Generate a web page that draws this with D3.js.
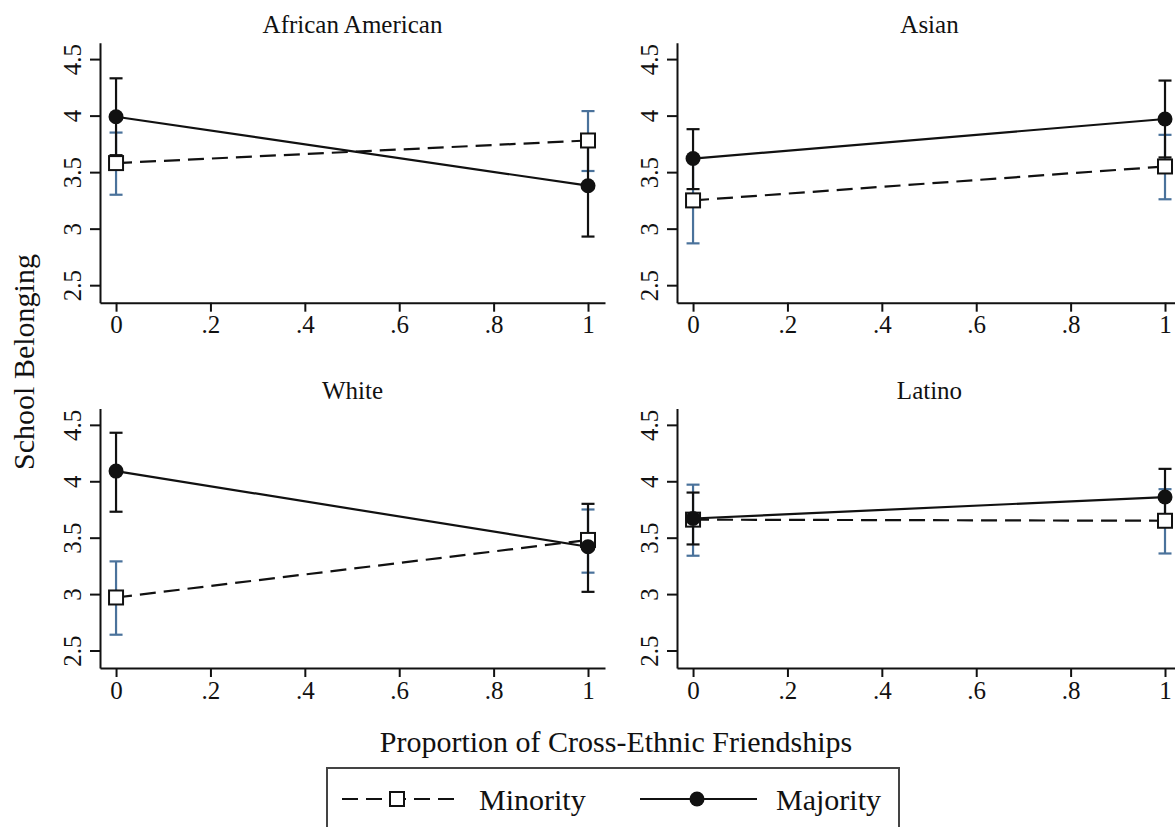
<!DOCTYPE html>
<html>
<head>
<meta charset="utf-8">
<script src="https://cdn.jsdelivr.net/npm/d3@7"></script>
<style>
  html, body { margin: 0; padding: 0; background: #fff; }
  svg { display: block; }
  text { font-family: "Liberation Serif", "Times New Roman", serif; fill: #111; }
</style>
</head>
<body>
<svg id="chart" width="1175" height="827"></svg>
<script>
// ---- Data ----
const panelTitles = ["African American", "Asian", "White", "Latino"];
const xValues = [0, 1];
const minorityMean  = [[3.58, 3.78], [3.25, 3.55], [2.97, 3.48], [3.66, 3.65]];
const minorityLower = [[3.30, 3.51], [2.87, 3.26], [2.64, 3.19], [3.34, 3.36]];
const minorityUpper = [[3.85, 4.04], [3.63, 3.83], [3.29, 3.75], [3.97, 3.93]];
const majorityMean  = [[3.99, 3.38], [3.62, 3.97], [4.09, 3.42], [3.67, 3.86]];
const majorityLower = [[3.65, 2.93], [3.35, 3.63], [3.73, 3.02], [3.44, 3.61]];
const majorityUpper = [[4.33, 3.83], [3.88, 4.31], [4.43, 3.80], [3.90, 4.11]];
const xTickValues = [0, 0.2, 0.4, 0.6, 0.8, 1];
const xTickLabels = ["0", ".2", ".4", ".6", ".8", "1"];
const yTickValues = [2.5, 3, 3.5, 4, 4.5];
const yTickLabels = ["2.5", "3", "3.5", "4", "4.5"];
const seriesNames = ["Minority", "Majority"];
const yTitle = "School Belonging";
const xTitle = "Proportion of Cross-Ethnic Friendships";

// ---- Layout ----
const svg = d3.select("#chart");
const blue = "#4a729b";
const ink = "#111";
const panelBoxes = [
  {x0: 100, x1: 605, y0: 42.7, y1: 302.7},
  {x0: 677, x1: 1182, y0: 42.7, y1: 302.7},
  {x0: 100, x1: 605, y0: 408.5, y1: 668},
  {x0: 677, x1: 1182, y0: 408.5, y1: 668}
];
const xDomain = [-0.034, 1.036];
const yDomain = [2.345, 4.645];
const capW = 13;

panelBoxes.forEach((b, i) => {
  const x = d3.scaleLinear().domain(xDomain).range([b.x0, b.x1]);
  const y = d3.scaleLinear().domain(yDomain).range([b.y1, b.y0]);
  const g = svg.append("g");

  // title
  g.append("text")
    .attr("x", (b.x0 + b.x1) / 2)
    .attr("y", b.y0 - 10)
    .attr("text-anchor", "middle")
    .style("font-size", "25px")
    .text(panelTitles[i]);

  // x axis
  const xa = g.append("g")
    .attr("transform", `translate(0,${b.y1})`)
    .call(d3.axisBottom(x).tickValues(xTickValues)
      .tickFormat((d, k) => xTickLabels[k]).tickSize(9).tickSizeOuter(0).tickPadding(4));
  xa.select(".domain").attr("stroke", ink).attr("stroke-width", 2);
  xa.selectAll(".tick line").attr("stroke", ink).attr("stroke-width", 2);
  xa.selectAll(".tick text").style("font-size", "25px").attr("fill", ink).attr("font-family", null);

  // y axis
  const ya = g.append("g")
    .attr("transform", `translate(${b.x0},0)`)
    .call(d3.axisLeft(y).tickValues(yTickValues)
      .tickFormat((d, k) => yTickLabels[k]).tickSize(10).tickSizeOuter(0));
  ya.select(".domain").attr("stroke", ink).attr("stroke-width", 2);
  ya.selectAll(".tick line").attr("stroke", ink).attr("stroke-width", 2);
  ya.selectAll(".tick text")
    .style("font-size", "25px").attr("fill", ink).attr("font-family", null)
    .attr("text-anchor", "middle").attr("x", null).attr("dy", null)
    .attr("transform", "translate(-19,0) rotate(-90)");

  const minPts = xValues.map((xv, k) => ({x: xv, m: minorityMean[i][k], lo: minorityLower[i][k], hi: minorityUpper[i][k]}));
  const majPts = xValues.map((xv, k) => ({x: xv, m: majorityMean[i][k], lo: majorityLower[i][k], hi: majorityUpper[i][k]}));

  function errBars(pts, color) {
    const eg = g.append("g").attr("stroke", color).attr("stroke-width", 2.2).attr("fill", "none");
    pts.forEach(p => {
      eg.append("line").attr("x1", x(p.x)).attr("x2", x(p.x)).attr("y1", y(p.lo)).attr("y2", y(p.hi));
      eg.append("line").attr("x1", x(p.x) - capW / 2).attr("x2", x(p.x) + capW / 2).attr("y1", y(p.lo)).attr("y2", y(p.lo));
      eg.append("line").attr("x1", x(p.x) - capW / 2).attr("x2", x(p.x) + capW / 2).attr("y1", y(p.hi)).attr("y2", y(p.hi));
    });
  }
  errBars(minPts, blue);
  errBars(majPts, ink);

  const line = d3.line().x(d => x(d.x)).y(d => y(d.m));
  g.append("path").datum(minPts).attr("d", line)
    .attr("fill", "none").attr("stroke", ink).attr("stroke-width", 2.2).attr("stroke-dasharray", "16,8");
  g.append("path").datum(majPts).attr("d", line)
    .attr("fill", "none").attr("stroke", ink).attr("stroke-width", 2.2);

  g.selectAll(".sq").data(minPts).enter().append("rect")
    .attr("x", d => x(d.x) - 7).attr("y", d => y(d.m) - 7)
    .attr("width", 14).attr("height", 14)
    .attr("fill", "#fff").attr("stroke", ink).attr("stroke-width", 2);
  g.selectAll(".ci").data(majPts).enter().append("circle")
    .attr("cx", d => x(d.x)).attr("cy", d => y(d.m)).attr("r", 7.5)
    .attr("fill", ink);
});

// axis titles
svg.append("text")
  .attr("transform", "translate(34,362) rotate(-90)")
  .attr("text-anchor", "middle")
  .style("font-size", "30px")
  .text(yTitle);
svg.append("text")
  .attr("x", 616).attr("y", 752)
  .attr("text-anchor", "middle")
  .style("font-size", "30px")
  .text(xTitle);

// legend
const lg = svg.append("g");
lg.append("rect").attr("x", 327).attr("y", 768).attr("width", 572).attr("height", 80)
  .attr("fill", "#fff").attr("stroke", "#444").attr("stroke-width", 2);
const ly = 799;
lg.append("line").attr("x1", 342).attr("x2", 460).attr("y1", ly).attr("y2", ly)
  .attr("stroke", ink).attr("stroke-width", 2.2).attr("stroke-dasharray", "16,8");
lg.append("rect").attr("x", 390).attr("y", ly - 7).attr("width", 14).attr("height", 14)
  .attr("fill", "#fff").attr("stroke", ink).attr("stroke-width", 2);
lg.append("text").attr("x", 479).attr("y", 810).style("font-size", "30px").text(seriesNames[0]);
lg.append("line").attr("x1", 640).attr("x2", 757).attr("y1", ly).attr("y2", ly)
  .attr("stroke", ink).attr("stroke-width", 2.2);
lg.append("circle").attr("cx", 697).attr("cy", ly).attr("r", 7.5).attr("fill", ink);
lg.append("text").attr("x", 776).attr("y", 810).style("font-size", "30px").text(seriesNames[1]);
</script>
</body>
</html>
